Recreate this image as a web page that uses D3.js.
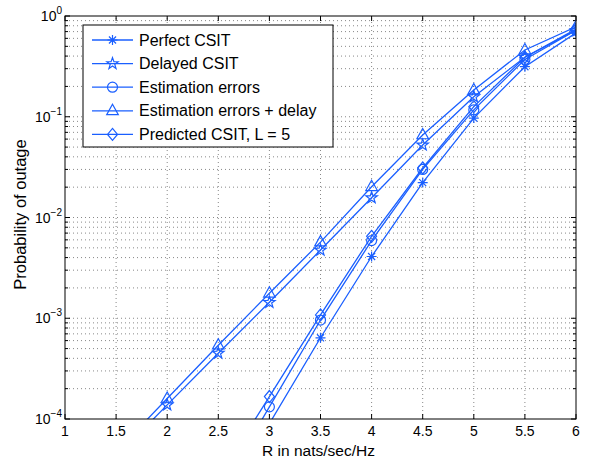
<!DOCTYPE html>
<html>
<head>
<script src="https://d3js.org/d3.v7.min.js"></script>
<style>
  body { margin: 0; background: #fff; }
  text { font-family: "Liberation Sans", Arial, sans-serif; fill: #000; }
</style>
</head>
<body>
<div id="chart"></div>
<script>
// rate values (nats/sec/Hz)
const rates = [1.5, 2, 2.5, 3, 3.5, 4, 4.5, 5, 5.5, 6];

// outage probabilities per scheme (null = not drawn)
const perfect    = [null, null, 1.4e-5, 9.0e-5, 6.4e-4, 4.1e-3, 0.0222, 0.097, 0.314, 0.68];
const delayed    = [4.2e-5, 1.38e-4, 4.5e-4, 1.44e-3, 4.75e-3, 0.0157, 0.0524, 0.158, 0.39, 0.72];
const estErrors  = [null, null, 1.8e-5, 1.32e-4, 9.6e-4, 5.9e-3, 0.030, 0.117, 0.37, 0.72];
const estDelay   = [4.7e-5, 1.6e-4, 5.4e-4, 1.77e-3, 5.7e-3, 0.0202, 0.066, 0.184, 0.46, 0.78];
const predicted  = [null, null, 2.6e-5, 1.67e-4, 1.08e-3, 6.5e-3, 0.031, 0.126, 0.39, 0.74];

const seriesNames = ["Perfect CSIT", "Delayed CSIT", "Estimation errors",
                     "Estimation errors + delay", "Predicted CSIT, L = 5"];
const seriesMarkers = ["asterisk", "star", "circle", "triangle", "diamond"];
const seriesData = [perfect, delayed, estErrors, estDelay, predicted];

const xTicks = [1, 1.5, 2, 2.5, 3, 3.5, 4, 4.5, 5, 5.5, 6];
const yExps = [0, -1, -2, -3, -4];

const W = 595, H = 463;
const margin = { top: 16, right: 19, bottom: 44, left: 65 };
const blue = "#1a5fff";

const svg = d3.select("#chart").append("svg")
  .attr("width", W).attr("height", H);

const x = d3.scaleLinear().domain([1, 6]).range([margin.left, W - margin.right]);
const y = d3.scaleLog().domain([1e-4, 1]).range([H - margin.bottom, margin.top]);

const x0 = x.range()[0], x1 = x.range()[1], y0 = y.range()[0], y1 = y.range()[1];

// grid
const minorY = [];
for (let e = -4; e < 0; e++) for (let k = 2; k <= 9; k++) minorY.push(k * Math.pow(10, e));
const majorY = yExps.map(e => Math.pow(10, e));

const grid = svg.append("g")
  .attr("stroke", "#555").attr("stroke-width", 0.7).attr("stroke-dasharray", "1,3");
grid.selectAll(".gx").data(xTicks.slice(1, -1)).enter().append("line")
  .attr("x1", d => x(d)).attr("x2", d => x(d)).attr("y1", y0).attr("y2", y1);
grid.selectAll(".gy").data(minorY.concat(majorY.slice(1, -1))).enter().append("line")
  .attr("y1", d => y(d)).attr("y2", d => y(d)).attr("x1", x0).attr("x2", x1);

// axes with inward ticks on all four sides
const axisG = svg.append("g").attr("stroke", "#000").attr("stroke-width", 1);
xTicks.forEach(t => {
  axisG.append("line").attr("x1", x(t)).attr("x2", x(t)).attr("y1", y0).attr("y2", y0 - 5);
  axisG.append("line").attr("x1", x(t)).attr("x2", x(t)).attr("y1", y1).attr("y2", y1 + 5);
});
majorY.forEach(t => {
  axisG.append("line").attr("y1", y(t)).attr("y2", y(t)).attr("x1", x0).attr("x2", x0 + 5);
  axisG.append("line").attr("y1", y(t)).attr("y2", y(t)).attr("x1", x1).attr("x2", x1 - 5);
});
minorY.forEach(t => {
  axisG.append("line").attr("y1", y(t)).attr("y2", y(t)).attr("x1", x0).attr("x2", x0 + 3);
  axisG.append("line").attr("y1", y(t)).attr("y2", y(t)).attr("x1", x1).attr("x2", x1 - 3);
});

// tick labels
svg.selectAll(".xl").data(xTicks).enter().append("text")
  .attr("x", d => x(d)).attr("y", y0 + 17)
  .attr("text-anchor", "middle").attr("font-size", 14)
  .text(d => d3.format("~g")(d));

yExps.forEach(e => {
  const t = svg.append("text").attr("x", x0 - 3).attr("y", y(Math.pow(10, e)) + 5)
    .attr("text-anchor", "end").attr("font-size", 14);
  t.append("tspan").text("10");
  t.append("tspan").attr("dy", -7).attr("font-size", 10).text(e === 0 ? "0" : "\u2212" + (-e));
});

svg.append("text").attr("x", (x0 + x1) / 2 - 2).attr("y", H - 7)
  .attr("text-anchor", "middle").attr("font-size", 15.5).text("R in nats/sec/Hz");
svg.append("text").attr("transform", `translate(26,${(y0 + y1) / 2 - 3}) rotate(-90)`)
  .attr("text-anchor", "middle").attr("font-size", 16.5).text("Probability of outage");

// marker shapes
function markerPath(kind) {
  const r = 5;
  if (kind === "asterisk") {
    const p = d3.path();
    for (let i = 0; i < 4; i++) {
      const a = i * Math.PI / 4;
      p.moveTo(-r * Math.cos(a), -r * Math.sin(a));
      p.lineTo(r * Math.cos(a), r * Math.sin(a));
    }
    return p.toString();
  }
  if (kind === "star") {
    const pts = [];
    for (let i = 0; i < 10; i++) {
      const rr = i % 2 === 0 ? 6 : 2.4;
      const a = -Math.PI / 2 + i * Math.PI / 5;
      pts.push([rr * Math.cos(a), rr * Math.sin(a)]);
    }
    return "M" + pts.join("L") + "Z";
  }
  if (kind === "circle") return d3.symbol(d3.symbolCircle, Math.PI * 25)();
  if (kind === "triangle") return "M0,-6.5L5.8,3.8L-5.8,3.8Z";
  if (kind === "diamond") return "M0,-6L5,0L0,6L-5,0Z";
}

// plot clip
svg.append("clipPath").attr("id", "clip").append("rect")
  .attr("x", x0).attr("y", y1).attr("width", x1 - x0).attr("height", y0 - y1);

const plot = svg.append("g").attr("clip-path", "url(#clip)");
const line = d3.line()
  .defined(d => d.v !== null)
  .x(d => x(d.r)).y(d => y(d.v));

seriesData.forEach((vals, i) => {
  const pts = rates.map((r, j) => ({ r: r, v: vals[j] }));
  plot.append("path").datum(pts)
    .attr("d", line).attr("fill", "none")
    .attr("stroke", blue).attr("stroke-width", 1.3);
  plot.selectAll(null).data(pts.filter(d => d.v !== null && d.v >= 1e-4))
    .enter().append("path")
    .attr("transform", d => `translate(${x(d.r)},${y(d.v)})`)
    .attr("d", markerPath(seriesMarkers[i]))
    .attr("fill", "none").attr("stroke", blue).attr("stroke-width", 1.2);
});

// axis box
svg.append("rect").attr("x", x0).attr("y", y1).attr("width", x1 - x0).attr("height", y0 - y1)
  .attr("fill", "none").attr("stroke", "#000").attr("stroke-width", 1);

// legend
const lg = svg.append("g");
lg.append("rect").attr("x", 83).attr("y", 25).attr("width", 250).attr("height", 122)
  .attr("fill", "#fff").attr("stroke", "#000").attr("stroke-width", 1);
seriesNames.forEach((name, i) => {
  const ly = 40 + i * 23.6;
  lg.append("line").attr("x1", 92).attr("x2", 133).attr("y1", ly).attr("y2", ly)
    .attr("stroke", blue).attr("stroke-width", 1.3);
  lg.append("path").attr("transform", `translate(112.5,${ly})`)
    .attr("d", markerPath(seriesMarkers[i]))
    .attr("fill", "none").attr("stroke", blue).attr("stroke-width", 1.2);
  lg.append("text").attr("x", 139).attr("y", ly + 5.5).attr("font-size", 16).text(name);
});
</script>
</body>
</html>
